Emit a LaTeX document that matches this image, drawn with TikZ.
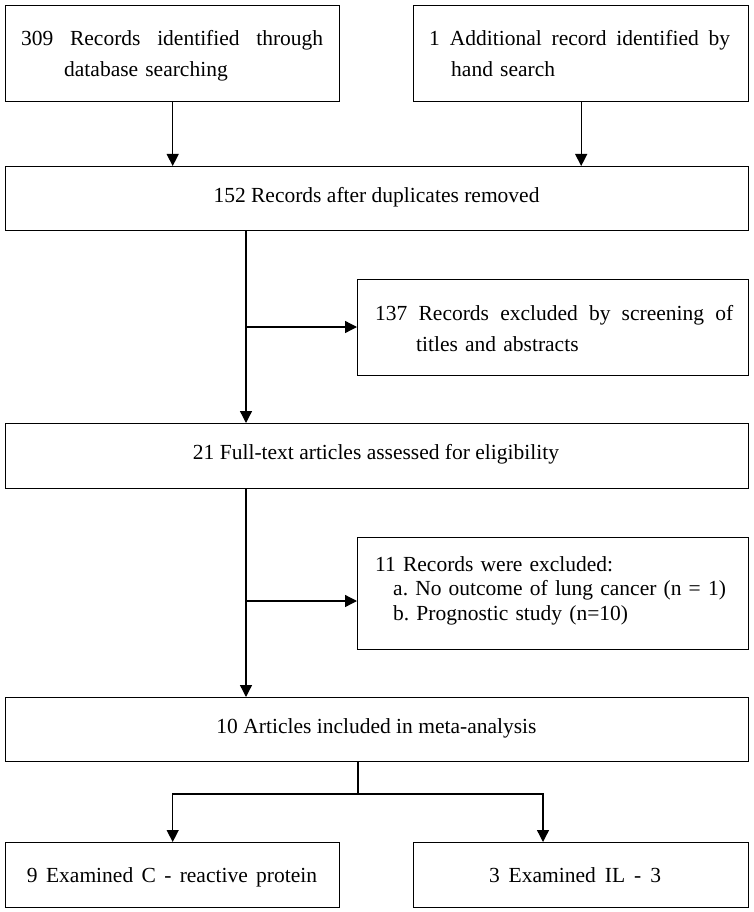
\documentclass[tikz,border=0pt]{standalone}
\usepackage{fontspec}
\setmainfont{Liberation Serif}
\usetikzlibrary{arrows.meta,calc}
\frenchspacing
\begin{document}
\begin{tikzpicture}[x=1pt,y=-1pt,
  box/.style={draw=black,line width=1.4pt,inner sep=0pt,anchor=north west},
  txt/.style={inner sep=0pt,font=\fontsize{21.5}{31.5}\selectfont},
  mtxt/.style={txt,anchor=north west,align=left},
  arr/.style={line width=1.3pt,-{Triangle[width=12pt,length=12pt]}},
  ln/.style={line width=1.3pt}]
\useasboundingbox (0,0) rectangle (753,912);
% boxes
\node[box,minimum width=334pt,minimum height=96pt] (b1) at (5,5) {};
\node[box,minimum width=335pt,minimum height=96pt] (b2) at (413,5) {};
\node[box,minimum width=743pt,minimum height=64pt] (b3) at (5,166) {};
\node[box,minimum width=391pt,minimum height=96pt] (b4) at (357,279) {};
\node[box,minimum width=743pt,minimum height=65pt] (b5) at (5,423) {};
\node[box,minimum width=391pt,minimum height=112pt] (b6) at (357,537) {};
\node[box,minimum width=743pt,minimum height=64pt] (b7) at (5,697) {};
\node[box,minimum width=334pt,minimum height=65pt] (b8) at (5,842) {};
\node[box,minimum width=335pt,minimum height=65pt] (b9) at (413,842) {};
% texts
\node[mtxt,text width=310pt] (t1) at (21,25) {\rule{0pt}{20pt}\makebox[302pt]{309\hfill Records\hfill identified\hfill through}\\\hspace*{43pt}database searching};
\node[mtxt,text width=310pt] (t2) at (429,25) {\rule{0pt}{20pt}\makebox[301pt]{1\hfill Additional\hfill record\hfill identified\hfill by}\\\hspace*{22pt}hand search};
\node[txt,anchor=base] (t3) at (376.5,202) {152 Records after duplicates removed};
\node[mtxt,text width=365pt,font=\fontsize{21.5}{31}\selectfont] (t4) at (375,300) {\rule{0pt}{20pt}\makebox[358pt]{137\hfill Records\hfill excluded\hfill by\hfill screening\hfill of}\\\hspace*{41pt}titles and abstracts};
\node[txt,anchor=base] (t5) at (376,459) {21 Full-text articles assessed for eligibility};
\node[mtxt,text width=365pt,font=\fontsize{21.5}{24.5}\selectfont] (t6) at (375,551) {\rule{0pt}{20pt}11 Records were excluded:\\\hspace*{18pt}a. No outcome of lung cancer (n = 1)\\\hspace*{18pt}b. Prognostic study (n=10)};
\node[txt,anchor=base] (t7) at (376.5,733) {10 Articles included in meta-analysis};
\node[txt,anchor=base] (t8) at (172,882) {\makebox[290pt]{9\hfill Examined\hfill C\hfill -\hfill reactive\hfill protein}};
\node[txt,anchor=base] (t9) at (575,882) {\makebox[172pt]{3\hfill Examined\hfill IL\hfill -\hfill 3}};
% junction coordinates
\coordinate (x1) at (246,0);
\coordinate (j1) at (246,327);
\coordinate (j2) at (246,601);
\coordinate (sp) at (358,794);
\coordinate (c9) at (543,842);
% connectors
\draw[arr] (b1.south) -- (b1.south |- b3.north);
\draw[arr] (b2.south) -- (b2.south |- b3.north);
\draw[arr] (b3.south -| x1) -- (b5.north -| x1);
\draw[arr] (j1) -- (j1 -| b4.west);
\draw[arr] (b5.south -| x1) -- (b7.north -| x1);
\draw[arr] (j2) -- (j2 -| b6.west);
\draw[ln] (b7.south -| sp) -- (sp);
\draw[arr] (sp) -| (b8.north);
\draw[arr] (sp) -| (c9);
\end{tikzpicture}
\end{document}
